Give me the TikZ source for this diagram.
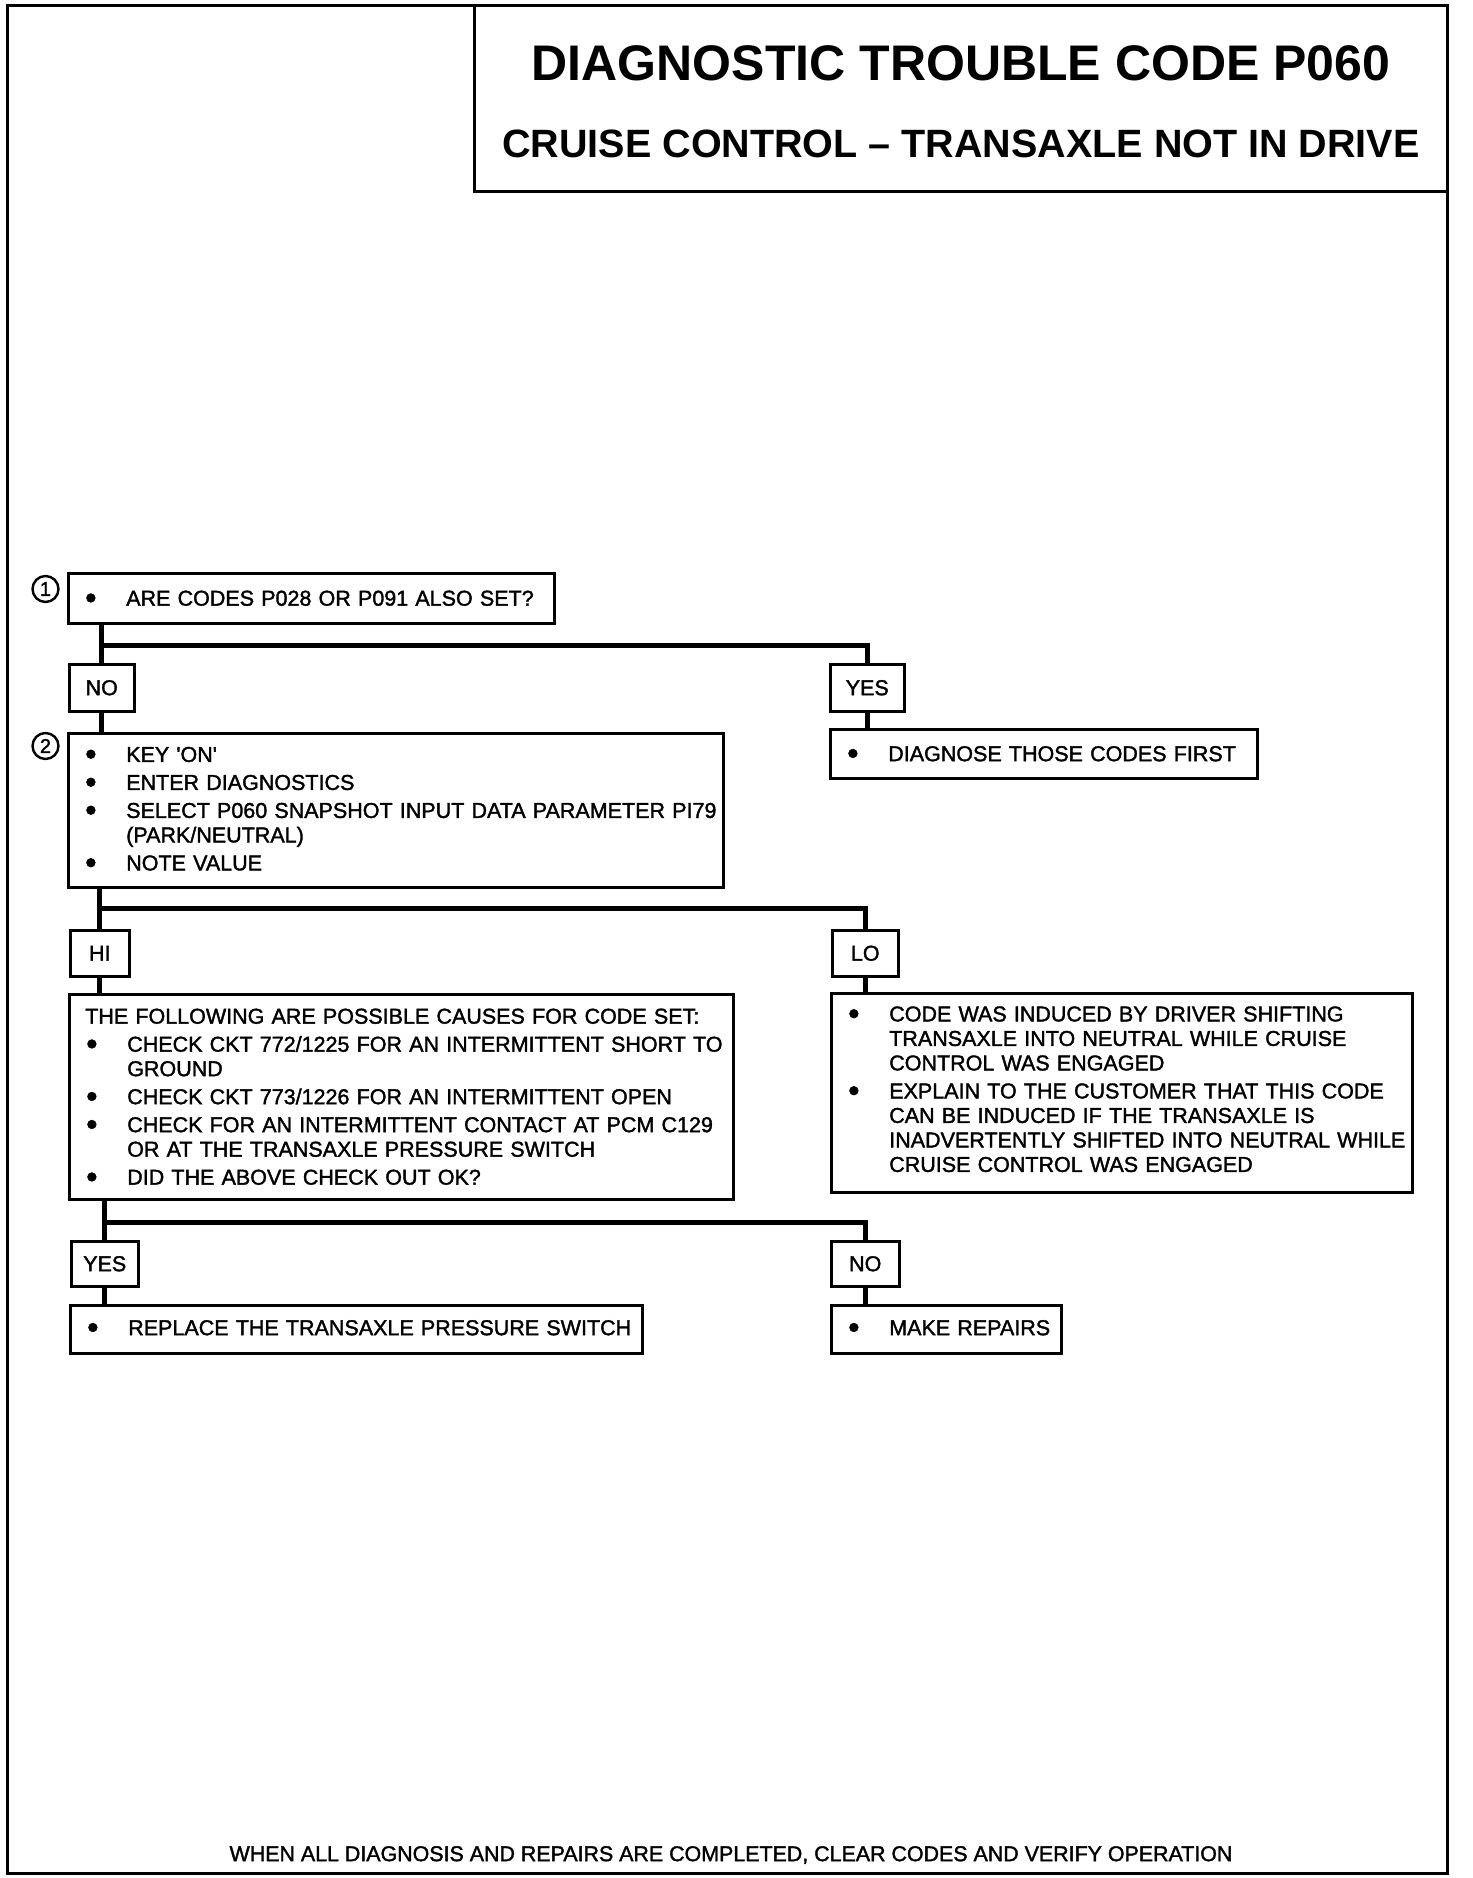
\documentclass[tikz,border=0pt]{standalone}
\usepackage{fontspec}
\setmainfont{Liberation Sans}
\newfontfamily\heavy{Liberation Sans}[FakeBold=1.6]
\usetikzlibrary{calc}
\newcommand\blt{\smash{\raisebox{-3pt}{\scalebox{1.5}{\textbullet}}}}
\newcommand\bitem[1]{\noindent\hangindent=58pt\hangafter=1\makebox[58pt][l]{\hspace{17pt}\blt}#1\par}
\newcommand\bhead[1]{\noindent\hspace*{16pt}#1\par}
\newcommand\padbottom[1]{\vskip #1\hrule height 0pt width 0pt}
\tikzset{
  frame/.style={draw, line width=3pt, anchor=north west, inner sep=0pt},
  box/.style={draw, line width=2.5pt, anchor=north west, inner sep=0pt,
    font=\heavy\fontsize{21.5}{24.5}\selectfont,
    execute at begin node={\raggedright\setlength\parskip{3.5pt}}},
  lbl/.style={draw, line width=2.5pt, anchor=north west, inner sep=0pt, align=center,
    font=\heavy\fontsize{21.5}{24.5}\selectfont},
  conn/.style={line width=5pt},
  num/.style={draw, circle, line width=2.4pt, inner sep=0pt, minimum size=26pt,
    font=\heavy\fontsize{20}{20}\selectfont},
  ttl/.style={font=\fontsize{50}{50}\selectfont\bfseries, inner sep=0pt},
  sub/.style={font=\fontsize{39.5}{40}\selectfont\bfseries, inner sep=0pt},
  foot/.style={font=\heavy\fontsize{21.4}{22}\selectfont, inner sep=0pt}
}
\begin{document}
\begin{tikzpicture}[x=1pt,y=-1pt]
\useasboundingbox (0,0) rectangle (1472,1878);
% frame and title
\node[frame, minimum width=1440pt, minimum height=1868pt] (frame) at (6,4) {};
\node[frame, minimum width=973pt, minimum height=186pt] (tbox) at (473,4) {};
\node[ttl] (title) at (961,63.5) {DIAGNOSTIC TROUBLE CODE P060};
\node[sub] (subtitle) at (961,144) {CRUISE CONTROL -- TRANSAXLE NOT IN DRIVE};
\node[foot] (footer) at (731,1855) {WHEN ALL DIAGNOSIS AND REPAIRS ARE COMPLETED, CLEAR CODES AND VERIFY OPERATION};

% step 1
\node[box, text width=486pt, minimum height=50pt] (b1) at (67,572)
  {\bitem{ARE CODES P028 OR P091 ALSO SET?}};
\node[num] (c1) at (45.5,589) {1};
\node[lbl, minimum width=65pt, minimum height=47pt] (no1) at (68,663) {NO};
\node[lbl, minimum width=74pt, minimum height=47pt] (yes1) at (829,663) {YES};
\node[box, text width=427pt, minimum height=49pt] (diag) at (829,728)
  {\bitem{DIAGNOSE THOSE CODES FIRST}};

% step 2
\node[box, text width=655pt, minimum height=154pt] (b2) at (67,732)
  {\bitem{KEY 'ON'}
   \bitem{ENTER DIAGNOSTICS}
   \bitem{SELECT P060 SNAPSHOT INPUT DATA PARAMETER PI79\newline (PARK/NEUTRAL)}
   \bitem{NOTE VALUE}\padbottom{3pt}};
\node[num] (c2) at (45.5,746) {2};
\node[lbl, minimum width=59pt, minimum height=46pt] (hi) at (69,929) {HI};
\node[lbl, minimum width=66pt, minimum height=46pt] (lo) at (831,929) {LO};

\node[box, text width=664pt, minimum height=205pt] (b3) at (68,993)
  {\bhead{THE FOLLOWING ARE POSSIBLE CAUSES FOR CODE SET:}
   \bitem{CHECK CKT 772/1225 FOR AN INTERMITTENT SHORT TO\newline GROUND}
   \bitem{CHECK CKT 773/1226 FOR AN INTERMITTENT OPEN}
   \bitem{CHECK FOR AN INTERMITTENT CONTACT AT PCM C129\newline OR AT THE TRANSAXLE PRESSURE SWITCH}
   \bitem{DID THE ABOVE CHECK OUT OK?}};
\node[box, text width=581pt, minimum height=199pt] (lobox) at (830,992)
  {\bitem{CODE WAS INDUCED BY DRIVER SHIFTING\newline TRANSAXLE INTO NEUTRAL WHILE CRUISE\newline CONTROL WAS ENGAGED}
   \bitem{EXPLAIN TO THE CUSTOMER THAT THIS CODE\newline CAN BE INDUCED IF THE TRANSAXLE IS\newline INADVERTENTLY SHIFTED INTO NEUTRAL WHILE\newline CRUISE CONTROL WAS ENGAGED}\padbottom{7pt}};

\node[lbl, minimum width=67pt, minimum height=45pt] (yes2) at (70,1240) {YES};
\node[lbl, minimum width=68pt, minimum height=45pt] (no2) at (830,1240) {NO};
\node[box, text width=572pt, minimum height=48pt] (rep) at (69,1304)
  {\bitem{REPLACE THE TRANSAXLE PRESSURE SWITCH}\padbottom{3pt}};
\node[box, text width=230pt, minimum height=48pt] (mk) at (830,1304)
  {\bitem{MAKE REPAIRS}\padbottom{3pt}};

% connectors
\coordinate (j1) at (0,645);
\coordinate (j2) at (0,908);
\coordinate (j3) at (0,1222);
\draw[conn] (no1.north |- b1.south) -- (no1.north);
\draw[conn] (no1.north |- j1) -| (yes1.north);
\draw[conn] (yes1.south) -- (yes1.south |- diag.north);
\draw[conn] (no1.south) -- (no1.south |- b2.north);
\draw[conn] (hi.north |- b2.south) -- (hi.north);
\draw[conn] (hi.north |- j2) -| (lo.north);
\draw[conn] (hi.south) -- (hi.south |- b3.north);
\draw[conn] (lo.south) -- (lo.south |- lobox.north);
\draw[conn] (yes2.north |- b3.south) -- (yes2.north);
\draw[conn] (yes2.north |- j3) -| (no2.north);
\draw[conn] (yes2.south) -- (yes2.south |- rep.north);
\draw[conn] (no2.south) -- (no2.south |- mk.north);
\end{tikzpicture}
\end{document}
